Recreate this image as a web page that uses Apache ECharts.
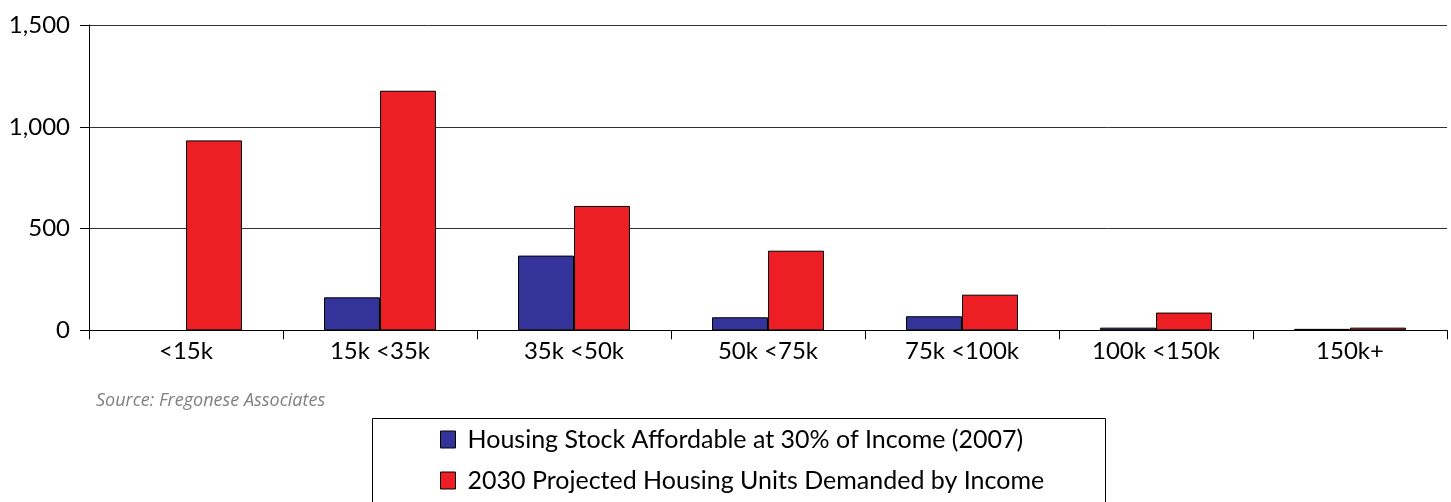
<!DOCTYPE html>
<html>
<head>
<meta charset="utf-8">
<script src="https://cdn.jsdelivr.net/npm/echarts@6/dist/echarts.min.js"></script>
<style>
html,body{margin:0;padding:0;background:#fff;}
#chart{width:1451px;height:502px;}
</style>
</head>
<body>
<div id="chart"></div>
<script>
const categories = ['<15k', '15k <35k', '35k <50k', '50k <75k', '75k <100k', '100k <150k', '150k+'];
const housingStock2007 = [0, 162, 367, 64, 69, 13, 7];
const projected2030 = [933, 1177, 611, 391, 175, 87, 13];
const seriesNames = ['Housing Stock Affordable at 30% of Income (2007)', '2030 Projected Housing Units Demanded by Income'];
const sourceText = 'Source: Fregonese Associates';

const FONT = 'Lato';
// zero-height bars are not outlined in the reference
const toBarData = arr => arr.map(v => v === 0 ? {value: v, itemStyle: {borderWidth: 0}} : v);

const chart = echarts.init(document.getElementById('chart'), null, {renderer: 'canvas'});
chart.setOption({
  animation: false,
  backgroundColor: '#ffffff',
  textStyle: {fontFamily: FONT},
  title: {
    text: sourceText,
    left: 91, top: 387,
    textStyle: {fontFamily: 'Open Sans', fontStyle: 'italic', fontWeight: 'normal', fontSize: 18, color: '#808080'}
  },
  graphic: [{
    type: 'rect',
    shape: {x: 372.5, y: 418.5, width: 733, height: 100},
    style: {fill: '#ffffff', stroke: '#000000', lineWidth: 1},
    z: 0
  }],
  legend: {
    orient: 'vertical',
    left: 440, top: 427,
    padding: 0,
    itemWidth: 15, itemHeight: 17,
    itemGap: 16,
    icon: 'rect',
    itemStyle: {borderColor: '#000', borderWidth: 1},
    textStyle: {fontFamily: FONT, fontSize: 25, lineHeight: 25, color: '#000', padding: [0, 0, 0, 7]},
    z: 5
  },
  grid: {left: 89, right: 4, top: 25, bottom: 171.7, containLabel: false},
  xAxis: {
    type: 'category',
    data: categories,
    boundaryGap: true,
    axisLine: {lineStyle: {color: '#000', width: 1}},
    axisTick: {show: true, length: 9, lineStyle: {color: '#000'}},
    axisLabel: {fontFamily: FONT, fontSize: 24, color: '#000', margin: 9, interval: 0},
    splitLine: {show: false}
  },
  yAxis: {
    type: 'value',
    min: 0, max: 1500, interval: 500,
    axisLine: {show: true, lineStyle: {color: '#000', width: 1}},
    axisTick: {show: true, length: 9, lineStyle: {color: '#000'}},
    axisLabel: {
      fontFamily: FONT, fontSize: 24, color: '#000', margin: 19,
      formatter: v => v.toLocaleString('en-US')
    },
    splitLine: {show: true, lineStyle: {color: '#333', width: 1}}
  },
  series: [{
    name: seriesNames[0],
    type: 'bar',
    data: toBarData(housingStock2007),
    barWidth: 56,
    barGap: '0%',
    itemStyle: {color: '#333399', borderColor: '#000', borderWidth: 1}
  }, {
    name: seriesNames[1],
    type: 'bar',
    data: toBarData(projected2030),
    barWidth: 56,
    barGap: '0%',
    itemStyle: {color: '#ED1F24', borderColor: '#000', borderWidth: 1}
  }]
});
</script>
</body>
</html>
